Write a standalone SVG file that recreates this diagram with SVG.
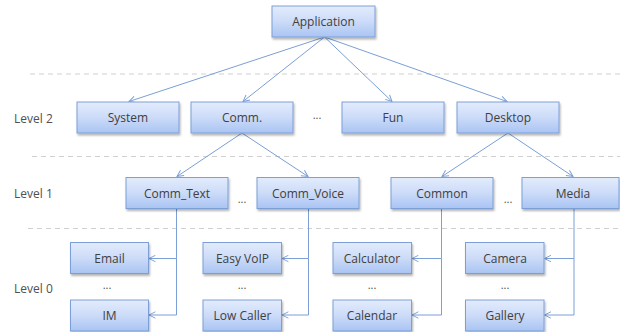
<svg xmlns="http://www.w3.org/2000/svg" width="620" height="332" viewBox="0 0 620 332">
<defs>
<linearGradient id="g" x1="0" y1="0" x2="0" y2="1">
<stop offset="0" stop-color="#e3ecfc"/>
<stop offset="0.5" stop-color="#ccdbf8"/>
<stop offset="1" stop-color="#a9c4f3"/>
</linearGradient>
<filter id="sh" x="-10%" y="-10%" width="130%" height="140%">
<feGaussianBlur in="SourceAlpha" stdDeviation="1"/>
<feOffset dx="1" dy="1.5" result="b"/>
<feComponentTransfer><feFuncA type="linear" slope="0.3"/></feComponentTransfer>
<feMerge><feMergeNode/><feMergeNode in="SourceGraphic"/></feMerge>
</filter>
<marker id="ar" viewBox="0 0 10 10" refX="9" refY="5" markerWidth="8" markerHeight="8" markerUnits="userSpaceOnUse" orient="auto">
<path d="M1,1 L9,5 L1,9" fill="none" stroke="#7b9fd6" stroke-width="1.2"/>
</marker>
</defs>
<style>
.n rect{fill:url(#g);stroke:#7d9fd8;stroke-width:1;filter:url(#sh)}
.n text{font-family:"Open Sans","Noto Sans",sans-serif;font-size:12px;fill:#404040;text-anchor:middle;dominant-baseline:central}
.lv{font-family:"Open Sans","Noto Sans",sans-serif;font-size:12px;fill:#505050;dominant-baseline:central}
.dots{font-family:"Open Sans","Noto Sans",sans-serif;font-size:11px;fill:#505050;text-anchor:middle}
.sep{stroke:#d0d0d0;stroke-width:1;stroke-dasharray:5,4;fill:none}
.c path{fill:none;stroke:#7b9fd6;stroke-width:1;marker-end:url(#ar)}
</style>
<rect width="620" height="332" fill="#ffffff"/>
<g id="separators">
<line class="sep" x1="30" y1="74" x2="620" y2="74"/>
<line class="sep" x1="32" y1="156.5" x2="620" y2="156.5"/>
<line class="sep" x1="28" y1="228.5" x2="620" y2="228.5"/>
</g>
<g id="levels">
<text class="lv" x="14" y="118">Level 2</text>
<text class="lv" x="14" y="193">Level 1</text>
<text class="lv" x="14" y="288">Level 0</text>
</g>
<g id="ellipses">
<text class="dots" x="317" y="119">...</text>
<text class="dots" x="242" y="203">...</text>
<text class="dots" x="508" y="203">...</text>
<text class="dots" x="107" y="289">...</text>
<text class="dots" x="242" y="289">...</text>
<text class="dots" x="372" y="289">...</text>
<text class="dots" x="505" y="289">...</text>
</g>
<g class="c" id="connectors">
<path d="M324.5,37 L129,101.5"/>
<path d="M324.5,37 L243,101.5"/>
<path d="M324.5,37 L392,101.5"/>
<path d="M324.5,37 L507,101.5"/>
<path d="M242,133 L177,176.5"/>
<path d="M242,133 L308,176.5"/>
<path d="M508,133 L442,176.5"/>
<path d="M508,133 L573,176.5"/>
<path d="M176.5,209 L176.5,258.5 L149,258.5"/>
<path d="M176.5,258.5 L176.5,315 L149,315"/>
<path d="M308.5,209 L308.5,258.5 L282,258.5"/>
<path d="M308.5,258.5 L308.5,315 L282,315"/>
<path d="M441.5,209 L441.5,258.5 L412,258.5"/>
<path d="M441.5,258.5 L441.5,315 L412,315"/>
<path d="M574,209 L574,258.5 L544.5,258.5"/>
<path d="M574,258.5 L574,315 L544.5,315"/>
</g>
<g class="n" id="application"><rect x="272" y="6" width="103" height="31"/><text x="323.5" y="21.5">Application</text></g>
<g class="n" id="system"><rect x="77" y="102" width="102" height="31"/><text x="128" y="117.5">System</text></g>
<g class="n" id="comm"><rect x="191" y="102" width="102" height="31"/><text x="242" y="117.5">Comm.</text></g>
<g class="n" id="fun"><rect x="342" y="102" width="102" height="31"/><text x="393" y="117.5">Fun</text></g>
<g class="n" id="desktop"><rect x="457" y="102" width="102" height="31"/><text x="508" y="117.5">Desktop</text></g>
<g class="n" id="comm_text"><rect x="126" y="177.5" width="102" height="31"/><text x="177" y="193">Comm_Text</text></g>
<g class="n" id="comm_voice"><rect x="257" y="177.5" width="102" height="31"/><text x="308" y="193">Comm_Voice</text></g>
<g class="n" id="common"><rect x="391" y="177.5" width="102" height="31"/><text x="442" y="193">Common</text></g>
<g class="n" id="media"><rect x="522" y="177.5" width="97" height="31"/><text x="573" y="193">Media</text></g>
<g class="n" id="email"><rect x="70.5" y="242.5" width="78" height="31"/><text x="109.5" y="258">Email</text></g>
<g class="n" id="im"><rect x="70.5" y="300" width="78" height="31"/><text x="109.5" y="315.5">IM</text></g>
<g class="n" id="easy_voip"><rect x="203" y="242.5" width="78.5" height="31"/><text x="242.5" y="258">Easy VoIP</text></g>
<g class="n" id="low_caller"><rect x="203" y="300" width="78.5" height="31"/><text x="242.5" y="315.5">Low Caller</text></g>
<g class="n" id="calculator"><rect x="333" y="242.5" width="78.5" height="31"/><text x="372" y="258">Calculator</text></g>
<g class="n" id="calendar"><rect x="333" y="300" width="78.5" height="31"/><text x="372" y="315.5">Calendar</text></g>
<g class="n" id="camera"><rect x="465.5" y="242.5" width="78.5" height="31"/><text x="505" y="258">Camera</text></g>
<g class="n" id="gallery"><rect x="465.5" y="300" width="78.5" height="31"/><text x="505" y="315.5">Gallery</text></g>
</svg>
